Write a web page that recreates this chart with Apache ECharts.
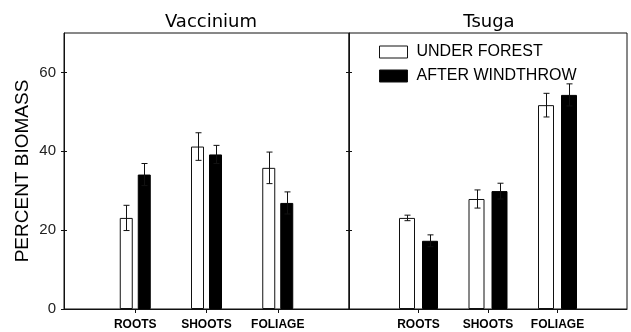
<!DOCTYPE html>
<html>
<head>
<meta charset="utf-8">
<script src="https://cdn.jsdelivr.net/npm/echarts@6/dist/echarts.min.js"></script>
<style>
  html, body { margin: 0; padding: 0; background: #fff; }
  #chart { width: 631px; height: 332px; }
</style>
</head>
<body>
<div id="chart"></div>
<script>
// Biomass allocation (%) of two understory species, under forest vs. after windthrow
const categories = ['ROOTS', 'SHOOTS', 'FOLIAGE'];
const panelTitles = ['Vaccinium', 'Tsuga'];
const seriesNames = ['UNDER FOREST', 'AFTER WINDTHROW'];
const yTicks = [0, 20, 40, 60];
const yMax = 70;

const vacciniumUnder = [23.1, 41.2, 35.8];
const vacciniumUnderErr = [3.2, 3.5, 4.0];
const vacciniumAfter = [34.1, 39.2, 26.9];
const vacciniumAfterErr = [2.8, 2.3, 2.8];

const tsugaUnder = [23.1, 27.9, 51.7];
const tsugaUnderErr = [0.7, 2.3, 3.0];
const tsugaAfter = [17.3, 29.9, 54.3];
const tsugaAfterErr = [1.5, 2.0, 2.8];

// panel layout and bar styling
const panels = [
  { left: 64, width: 285, barWidth: 13, gap: 5, under: vacciniumUnder, underErr: vacciniumUnderErr, after: vacciniumAfter, afterErr: vacciniumAfterErr },
  { left: 349, width: 278, barWidth: 16, gap: 7, under: tsugaUnder, underErr: tsugaUnderErr, after: tsugaAfter, afterErr: tsugaAfterErr }
];
const plotTop = 33, plotHeight = 276;
const ink = '#111';
const sans = '"Liberation Sans", Arial, sans-serif';

// an empty slot on each side keeps the three groups away from the panel edges
const axisData = [''].concat(categories, ['']);
const padded = vals => ['-'].concat(vals, ['-']);
const errData = (vals, errs) => vals.map((v, i) => [i + 1, v, errs[i]]);

function errorBar(offset) {
  return function (params, api) {
    const x = api.value(0), v = api.value(1), e = api.value(2);
    const hi = api.coord([x, v + e]);
    const lo = api.coord([x, v - e]);
    const cx = Math.round(hi[0] + offset) + 0.5;
    const cap = 3;
    const st = { stroke: ink, lineWidth: 1 };
    return {
      type: 'group',
      children: [
        { type: 'line', shape: { x1: cx, y1: hi[1], x2: cx, y2: lo[1] }, style: st },
        { type: 'line', shape: { x1: cx - cap, y1: hi[1], x2: cx + cap, y2: hi[1] }, style: st },
        { type: 'line', shape: { x1: cx - cap, y1: lo[1], x2: cx + cap, y2: lo[1] }, style: st }
      ]
    };
  };
}

const grid = [], xAxis = [], yAxis = [], series = [];
panels.forEach((p, i) => {
  grid.push({ left: p.left, top: plotTop, width: p.width, height: plotHeight, show: true, borderColor: ink, borderWidth: 1, backgroundColor: 'transparent' });
  xAxis.push({
    gridIndex: i, type: 'category', data: axisData, boundaryGap: false,
    axisLine: { lineStyle: { color: ink } },
    axisTick: { length: 4, interval: idx => idx > 0 && idx < axisData.length - 1, lineStyle: { color: ink } },
    axisLabel: { interval: 0, margin: 10, color: '#000', fontFamily: sans, fontWeight: 'bold', fontSize: 12 },
    splitLine: { show: false }
  });
  // outer ticks (with labels on the first panel)
  yAxis.push({
    gridIndex: i, type: 'value', min: 0, max: yMax, position: 'left',
    name: i === 0 ? 'PERCENT BIOMASS' : '', nameLocation: 'middle', nameGap: 32,
    nameTextStyle: { fontFamily: sans, fontSize: 19, color: '#000' },
    axisLine: { show: true, lineStyle: { color: ink } },
    axisTick: { show: true, length: 3, customValues: yTicks, lineStyle: { color: ink } },
    axisLabel: { show: i === 0, customValues: yTicks, margin: 8, color: '#222', fontFamily: sans, fontSize: 15 },
    splitLine: { show: false }
  });
  // inner ticks so each tick crosses the axis
  yAxis.push({
    gridIndex: i, type: 'value', min: 0, max: yMax, position: 'left', offset: 0,
    axisLine: { show: false },
    axisTick: { show: true, inside: true, length: 3, customValues: yTicks, lineStyle: { color: ink } },
    axisLabel: { show: false },
    splitLine: { show: false }
  });

  const barGap = (p.gap / p.barWidth * 100) + '%';
  const shift = (p.barWidth + p.gap) / 2;
  series.push({
    name: seriesNames[0], type: 'bar', xAxisIndex: i, yAxisIndex: i * 2,
    data: padded(p.under), barWidth: p.barWidth, barGap: barGap,
    itemStyle: { color: '#fff', borderColor: ink, borderWidth: 1 }, z: 2
  });
  series.push({
    name: seriesNames[1], type: 'bar', xAxisIndex: i, yAxisIndex: i * 2,
    data: padded(p.after), barWidth: p.barWidth, barGap: barGap,
    itemStyle: { color: '#000', borderColor: '#000', borderWidth: 1 }, z: 2
  });
  series.push({
    type: 'custom', xAxisIndex: i, yAxisIndex: i * 2, z: 3, silent: true,
    data: errData(p.under, p.underErr), encode: { x: 0, y: 1 },
    renderItem: errorBar(-shift)
  });
  series.push({
    type: 'custom', xAxisIndex: i, yAxisIndex: i * 2, z: 3, silent: true,
    data: errData(p.after, p.afterErr), encode: { x: 0, y: 1 },
    renderItem: errorBar(shift)
  });
});

const chart = echarts.init(document.getElementById('chart'), null, { renderer: 'canvas' });
chart.setOption({
  animation: false,
  backgroundColor: '#fff',
  title: [
    { text: panelTitles[0], left: 206, top: 8, textAlign: 'center', textStyle: { fontFamily: '"DejaVu Sans", sans-serif', fontSize: 18, fontWeight: 'normal', color: '#000' } },
    { text: panelTitles[1], left: 484, top: 8, textAlign: 'center', textStyle: { fontFamily: '"DejaVu Sans", sans-serif', fontSize: 18, fontWeight: 'normal', color: '#000' } }
  ],
  legend: {
    data: seriesNames, orient: 'vertical', left: 374, top: 39,
    itemWidth: 28, itemHeight: 12, itemGap: 8, icon: 'rect',
    itemStyle: { borderColor: ink, borderWidth: 1 },
    textStyle: { fontFamily: sans, fontSize: 16, color: '#000', padding: [0, 0, 0, 4] }
  },
  grid: grid,
  xAxis: xAxis,
  yAxis: yAxis,
  series: series
});
</script>
</body>
</html>
